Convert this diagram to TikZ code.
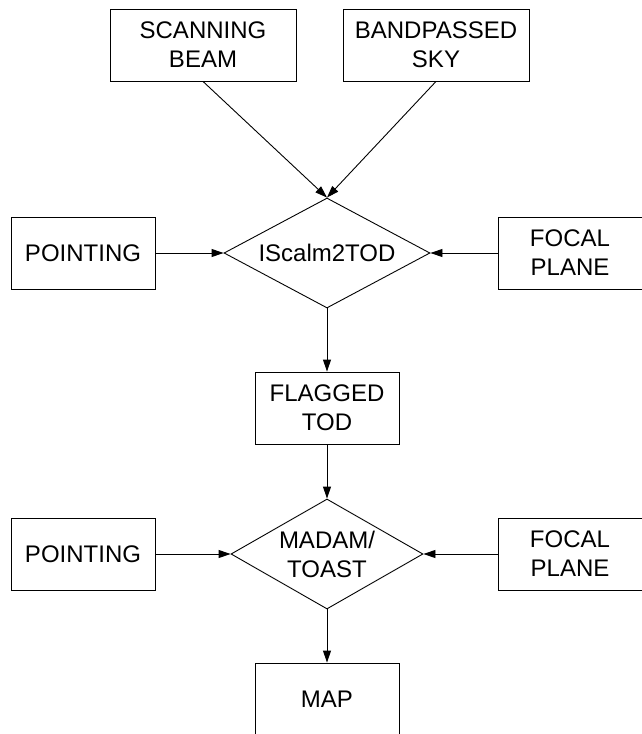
\documentclass[tikz,border=0pt]{standalone}
\usepackage{fontspec}
\setmainfont{Liberation Sans}
\usetikzlibrary{shapes.geometric,arrows.meta}

\begin{document}
\begin{tikzpicture}[x=1pt, y=-1pt, line width=0.9pt, >={Triangle[length=12pt,width=8pt]},
  box/.style={draw, rectangle, minimum width=144pt, minimum height=72pt, inner sep=0pt,
    align=center, font=\fontsize{24}{29}\selectfont},
  widebox/.style={box, minimum width=186pt},
  decision/.style={draw, diamond, inner sep=0pt},
  label/.style={align=center, font=\fontsize{24}{29}\selectfont}]
\useasboundingbox (0,0) rectangle (641,734);
% inputs for the simulation step
\node [widebox] (beam) at (203,45) {SCANNING\\BEAM};
\node [widebox] (sky) at (436,45) {BANDPASSED\\SKY};
\node [box] (point1) at (83,253) {POINTING};
\node [box] (focal1) at (570,253) {FOCAL\\PLANE};
\node [decision, minimum width=206pt, minimum height=110pt] (iscalm) at (327,253) {};
\node [label] (iscalmtext) at (iscalm.center) {IScalm2TOD};
\node [box] (flagged) at (327,408) {FLAGGED\\TOD};
% map making step
\node [box] (point2) at (83,554) {POINTING};
\node [box] (focal2) at (570,554) {FOCAL\\PLANE};
\node [decision, minimum width=192pt, minimum height=110pt] (madam) at (327,554) {};
\node [label] (madamtext) at (madam.center) {MADAM/\\TOAST};
\node [box] (map) at (327,699) {MAP};
\path [draw, ->] (beam.south) -- (iscalm.north);
\path [draw, ->] (sky.south) -- (iscalm.north);
\path [draw, ->] (point1) -- (iscalm.west);
\path [draw, ->] (focal1) -- (iscalm.east);
\path [draw, ->] (iscalm.south) -- (flagged.north);
\path [draw, ->] (flagged.south) -- (madam.north);
\path [draw, ->] (point2) -- (madam.west);
\path [draw, ->] (focal2) -- (madam.east);
\path [draw, ->] (madam.south) -- (map.north);
\end{tikzpicture}
\end{document}
